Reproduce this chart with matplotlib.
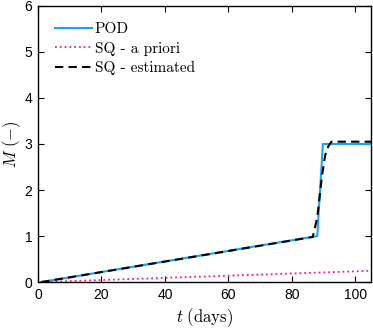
import matplotlib
matplotlib.use('Agg')
import matplotlib.pyplot as plt
import numpy as np

plt.rcParams['mathtext.fontset'] = 'cm'
plt.rcParams['font.family'] = 'Liberation Sans'

# POD solution
t_pod = [1, 88, 89.8, 105]
m_pod = [0, 1.0, 3.0, 3.0]

# SQ a priori
t_apr = [1, 105]
m_apr = [0, 0.245]

# SQ estimated
t_est = [1, 86.6, 88, 89.5, 90.5, 91.5, 92.5, 105]
m_est = [0, 0.98, 1.4, 2.3, 2.75, 2.95, 3.05, 3.05]

fig = plt.figure(figsize=(3.73, 3.28), dpi=100)
ax = fig.add_axes([0.102, 0.140, 0.893, 0.842])

ax.plot(t_pod, m_pod, color='#1aa3f5', lw=1.5, label='POD')
ax.plot(t_apr, m_apr, color='#ff1a8c', lw=1.3, ls=':', label='SQ - a priori')
ax.plot(t_est, m_est, color='black', lw=1.5, ls=(0, (4, 2.5)), label='SQ - estimated')

ax.set_xlim(0, 105)
ax.set_ylim(0, 6)
ax.set_xticks([0, 20, 40, 60, 80, 100])
ax.set_yticks([0, 1, 2, 3, 4, 5, 6])
ax.tick_params(direction='in', top=True, right=True, labelsize=10, length=4, width=0.8, pad=4)
for s in ax.spines.values():
    s.set_linewidth(1.0)

ax.set_xlabel(r'$t\ \mathrm{(days)}$', fontsize=12, labelpad=3)
ax.set_ylabel(r'$M\ \mathrm{(-)}$', fontsize=12, labelpad=1)

ax.legend(loc='upper left', frameon=False, prop={'family': 'cmr10', 'size': 11},
          handlelength=2.4, handletextpad=0.2, labelspacing=0.35,
          borderaxespad=0.7)

fig.savefig('out.png', dpi=100)
